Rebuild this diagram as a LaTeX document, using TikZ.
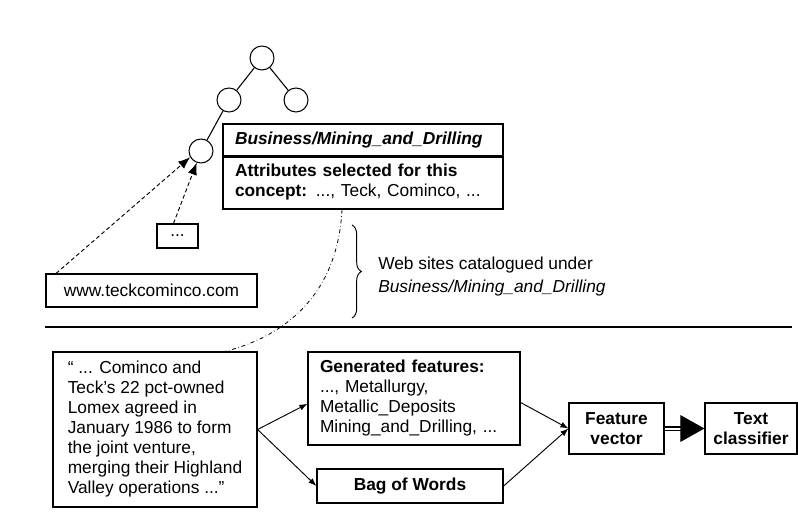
\documentclass[tikz,border=0pt]{standalone}
\usepackage{fontspec}
\setmainfont{Liberation Sans}
\usetikzlibrary{arrows.meta,decorations.pathreplacing}

\begin{document}
\begin{tikzpicture}[x=0.75pt,y=-0.75pt,
    treenode/.style={circle,draw,line width=0.8pt,minimum size=18pt,inner sep=0pt},
    box/.style={draw,line width=0.9pt,inner sep=0pt},
    leftbox/.style={box,align=left,inner xsep=9pt},
    link/.style={line width=0.7pt,-{Latex[length=6pt,width=4.5pt]}},
    webarrow/.style={dash pattern=on 3pt off 2pt,line width=0.7pt,-{Latex[length=9pt,width=7pt]}}]
    \useasboundingbox (0,0) rectangle (798,513);
    {\fontsize{13}{15}\selectfont

    % Drawing the concept tree
    \node [treenode] (root) at (262,58) {};
    \node [treenode] (left) at (229,100) {};
    \node [treenode] (right) at (296,100) {};
    \node [treenode] (mining) at (201,151) {};
    \draw [line width=0.8pt] (root) -- (left);
    \draw [line width=0.8pt] (root) -- (right);
    \draw [line width=0.8pt] (left) -- (mining);

    % Drawing concept box
    \node [leftbox,text width=192pt,minimum height=24pt] (head) at (363,140) {\textbf{\textit{Business/Mining\_and\_Drilling}}};
    \node [leftbox,text width=192pt,minimum height=39.75pt] (body) at (363,182.5) {\textbf{Attributes selected for this}\\\textbf{concept:} ..., Teck, Cominco, ...};
    \draw [line width=1.6pt] (head.south west) -- (head.south east);

    % Drawing web sites
    \node [box,minimum width=30.75pt,minimum height=18pt] (dots) at (177.5,236) {...};
    \node [box,minimum width=158.25pt,minimum height=24.75pt] (www) at (151.5,290.5) {www.teckcominco.com};
    \draw [webarrow] ([xshift=8pt]www.north west) -- (mining.210);
    \draw [webarrow] ([xshift=-3pt]dots.north) -- (mining.250);

    % Marking catalogued web sites by brace
    \draw [line width=0.7pt,decorate,decoration={brace,amplitude=7pt}] (352,225) -- (352,318);
    \node [anchor=west,align=left,inner sep=0pt] (web) at (378,276.5) {Web sites catalogued under\\[2pt]\textit{Business/Mining\_and\_Drilling}};

    % Drawing separator
    \draw [line width=1.5pt] (45,327) -- (792,327);

    % Drawing document and features
    \node [box,align=left,minimum width=153pt,minimum height=116.25pt] (quote) at (155,429.5) {“ ... Cominco and\\Teck’s 22 pct-owned\\Lomex agreed in\\January 1986 to form\\the joint venture,\\merging their Highland\\Valley operations ...”};
    \node [leftbox,text width=141pt,minimum height=69.75pt] (gen) at (414,398.5) {\textbf{Generated features:}\\..., Metallurgy,\\Metallic\_Deposits\\Mining\_and\_Drilling, ...};
    \node [box,minimum width=139.5pt,minimum height=25.5pt] (bag) at (410,486) {\textbf{Bag of Words}};
    \node [box,align=center,minimum width=71.25pt,minimum height=38.25pt] (vector) at (616.5,428.5) {\textbf{Feature}\\\textbf{vector}};
    \node [box,align=center,minimum width=69pt,minimum height=38.25pt] (classifier) at (751,428.5) {\textbf{Text}\\\textbf{classifier}};

    % Drawing dash-dot link from concept to document
    \draw [dash dot,line width=0.6pt] ([xshift=-15.75pt]body.south) .. controls (338,290) and (290,335) .. ([xshift=52.5pt]quote.north);

    % Drawing links
    \draw [link] (quote.east) -- ([yshift=-4pt]gen.west);
    \draw [link] (quote.east) -- (bag.west);
    \draw [link] ([yshift=-3pt]gen.east) -- (vector.west);
    \draw [link] (bag.east) -- (vector.west);
    \draw [double,line width=0.8pt,double distance=1.5pt,-{Triangle[length=18pt,width=20pt]}] (vector.east) -- (classifier.west);
    }
\end{tikzpicture}
\end{document}
